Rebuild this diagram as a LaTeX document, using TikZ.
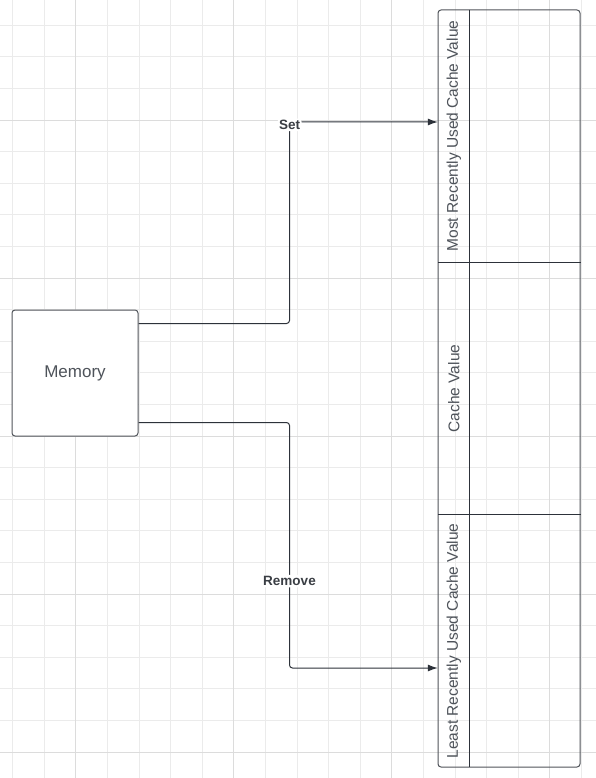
\documentclass[tikz,border=0pt]{standalone}
\usepackage{fontspec}
\setmainfont{Liberation Sans}
\usepackage{tikz}
\usetikzlibrary{arrows.meta, calc}
\definecolor{gridminor}{RGB}{235,235,235}
\definecolor{gridmajor}{RGB}{220,220,220}
\definecolor{boxline}{RGB}{80,84,90}
\definecolor{inkline}{RGB}{45,50,58}
\definecolor{labelgray}{RGB}{78,83,90}

\begin{document}
\begin{tikzpicture}[
        x=1pt, y=-1pt,
        minorgrid/.style={draw=gridminor, line width=0.8pt},
        majorgrid/.style={draw=gridmajor, line width=0.8pt},
        memory/.style={draw=boxline, fill=white, rounded corners=3pt, line width=1pt, minimum width=126pt, minimum height=126pt, font=\fontsize{17}{20}\selectfont, text=labelgray},
        frame/.style={draw=boxline, rounded corners=3pt, minimum width=142pt, minimum height=757pt, line width=1pt},
        cell/.style={minimum width=31.5pt, minimum height=252.5pt, inner sep=0pt},
        celltext/.style={rotate=90, font=\fontsize{15.5}{18}\selectfont, text=labelgray},
        divider/.style={draw=inkline, line width=1pt},
        flow/.style={draw=inkline, line width=1pt, rounded corners=3pt, -{Latex[length=10pt, width=7pt]}},
        flowlabel/.style={fill=white, inner sep=1.5pt, font=\bfseries\fontsize{13.5}{16}\selectfont, text=labelgray!75!black}
    ]
        \useasboundingbox (0,0) rectangle (596,778);
        \fill[white] (0,0) rectangle (596,778);

        % background grid
        \foreach \k in {0,...,18} {
            \pgfmathsetmacro{\gx}{12.5+\k*31.6}
            \draw[minorgrid] (\gx,0) -- (\gx,778);
        }
        \foreach \k in {0,...,23} {
            \pgfmathsetmacro{\gy}{25.2+\k*31.6}
            \draw[minorgrid] (0,\gy) -- (596,\gy);
        }
        \foreach \k in {2,7,12,17} {
            \pgfmathsetmacro{\gx}{12.5+\k*31.6}
            \draw[majorgrid] (\gx,0) -- (\gx,778);
        }
        \foreach \k in {3,8,13,18,23} {
            \pgfmathsetmacro{\gy}{25.2+\k*31.6}
            \draw[majorgrid] (0,\gy) -- (596,\gy);
        }

        \node[memory] (mem) at (75,373) {Memory};

        \node[frame] (cache) at (509,388.5) {};
        \node[cell] (mru) at (453.75,136) {};
        \node[cell] (cv) at (453.75,388.5) {};
        \node[cell] (lru) at (453.75,641) {};
        \node[celltext] at (mru) {Most Recently Used Cache Value};
        \node[celltext] at (cv) {Cache Value};
        \node[celltext] at (lru) {Least Recently Used Cache Value};

        \draw[divider] (mru.north east) -- (lru.south east);
        \draw[divider] (mru.south west) -- (mru.south west -| cache.east);
        \draw[divider] (lru.north west) -- (lru.north west -| cache.east);

        \draw[flow] ($(mem.north east)+(0,14)$) -- ++(151,0) |- node[flowlabel, pos=0.493] {Set} ($(mru.west)+(0,-14)$);
        \draw[flow] ($(mem.south east)+(0,-14)$) -- ++(151,0) |- node[flowlabel, pos=0.323] {Remove} ($(lru.west)+(0,27)$);
    \end{tikzpicture}
\end{document}
